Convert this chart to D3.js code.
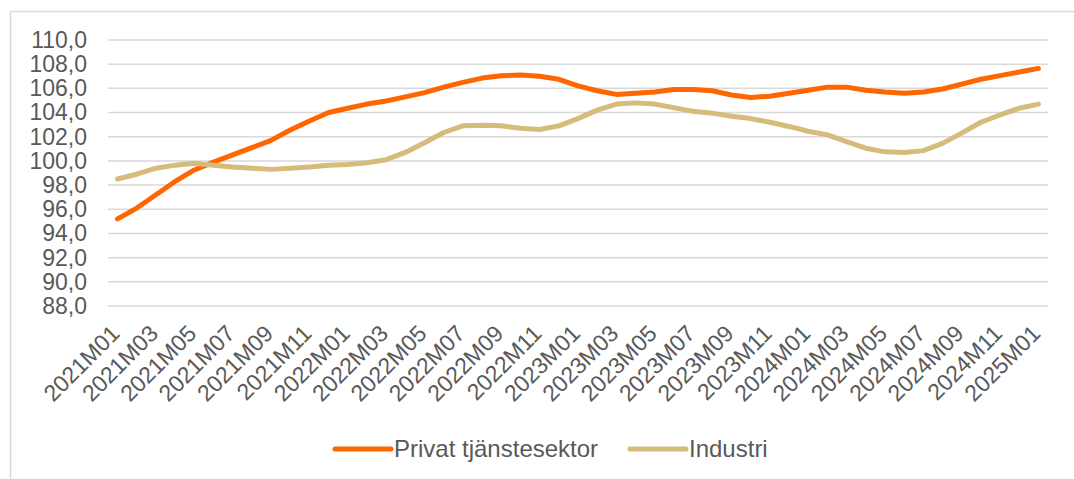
<!DOCTYPE html>
<html><head><meta charset="utf-8">
<script src="https://cdn.jsdelivr.net/npm/d3@7"></script>
<style>body{margin:0;background:#fff}svg{display:block}text{font-family:"Liberation Sans",Arial,sans-serif;fill:#595959}</style>
</head><body>
<svg id="c" width="1074" height="479"></svg>
<script>
const months = [];
for (let yr = 2021; yr <= 2025; yr++) for (let m = 1; m <= 12; m++) { if (yr === 2025 && m > 1) break; months.push(yr + "M" + String(m).padStart(2, "0")); }
const privat = [95.2,96.1,97.2,98.3,99.25,99.9,100.5,101.1,101.7,102.55,103.3,104.0,104.35,104.7,104.95,105.3,105.65,106.1,106.5,106.85,107.05,107.1,107.0,106.75,106.2,105.8,105.5,105.6,105.7,105.9,105.9,105.8,105.45,105.25,105.35,105.6,105.85,106.1,106.1,105.85,105.7,105.6,105.7,105.95,106.35,106.75,107.05,107.35,107.65];
const industri = [98.5,98.9,99.4,99.65,99.8,99.65,99.5,99.4,99.3,99.4,99.5,99.65,99.7,99.85,100.1,100.7,101.5,102.35,102.9,102.95,102.9,102.7,102.6,102.9,103.5,104.2,104.7,104.8,104.7,104.4,104.1,103.95,103.7,103.5,103.2,102.85,102.45,102.15,101.6,101.05,100.75,100.7,100.85,101.45,102.3,103.2,103.8,104.35,104.7];
const yTicks = [88,90,92,94,96,98,100,102,104,106,108,110];
const seriesNames = ["Privat tjänstesektor","Industri"];
const colors = ["#FF6600","#D6BC7A"];

const svg = d3.select("#c");
svg.append("rect").attr("x",10.5).attr("y",11.5).attr("width",1100).attr("height",500).attr("fill","none").attr("stroke","#d9d9d9").attr("stroke-width",1.5);

const pL = 108, pR = 1048, pT = 40, pB = 306;
const x = d3.scalePoint().domain(months).range([pL, pR]).padding(0.5);
const y = d3.scaleLinear().domain([88,110]).range([pB, pT]);
const fmt = v => d3.format(".1f")(v).replace(".", ",");

const ga = svg.append("g");
yTicks.forEach(t => {
  ga.append("line").attr("x1",pL).attr("x2",pR).attr("y1",y(t)).attr("y2",y(t)).attr("stroke","#d9d9d9").attr("stroke-width",1.5);
});
const yAxis = d3.axisLeft(y).tickValues(yTicks).tickFormat(fmt).tickSize(0).tickPadding(0);
const ya = svg.append("g").attr("transform",`translate(87,0)`).call(yAxis);
ya.select(".domain").remove();
ya.selectAll("text").attr("font-size",23).attr("fill","#595959").attr("font-family","Liberation Sans, Arial, sans-serif");

const xLabels = months.filter((d,i) => i % 2 === 0);
const xa = svg.append("g").attr("transform",`translate(0,${pB})`).call(d3.axisBottom(x).tickValues(xLabels).tickSize(0).tickPadding(0));
xa.select(".domain").remove();
xa.selectAll("text").attr("font-size",23).attr("fill","#595959").attr("font-family","Liberation Sans, Arial, sans-serif")
  .attr("text-anchor","end").attr("dy",0).attr("transform","translate(3,29) rotate(-45)");

const line = d3.line().x((d,i) => x(months[i])).y(d => y(d));
[privat, industri].forEach((s, k) => {
  svg.append("path").datum(s).attr("d", line).attr("fill","none").attr("stroke",colors[k]).attr("stroke-width",5).attr("stroke-linejoin","round").attr("stroke-linecap","round");
});

const legX = [335, 630];
seriesNames.forEach((n, k) => {
  svg.append("line").attr("x1",legX[k]).attr("x2",legX[k]+56).attr("y1",449).attr("y2",449).attr("stroke",colors[k]).attr("stroke-width",5).attr("stroke-linecap","round");
  svg.append("text").attr("x",legX[k]+59).attr("y",457).attr("font-size",24).text(n);
});
</script>
</body></html>
